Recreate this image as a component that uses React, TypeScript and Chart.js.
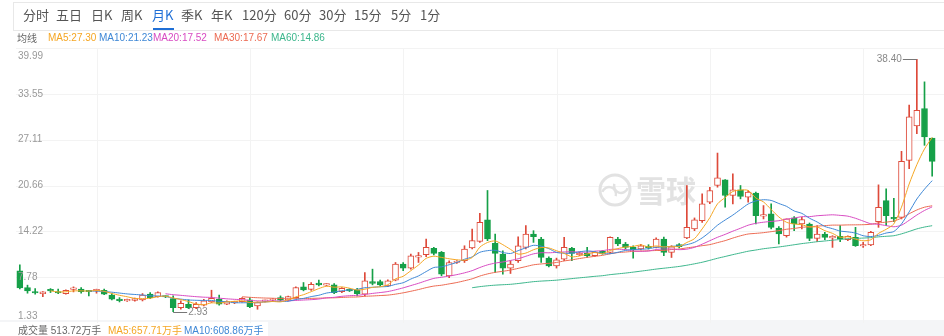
import React, { useEffect, useRef } from 'react';
import { Chart, registerables } from 'chart.js';
Chart.register(...registerables);

// ---------- data (monthly K line, 120 candles) ----------
const opens = [8.67,6.30,5.70,5.45,5.94,5.70,5.47,6.05,6.09,5.85,
 5.85,5.94,5.24,4.67,4.45,4.50,4.58,5.38,5.04,5.05,
 4.76,3.49,3.97,3.49,3.83,4.29,4.67,3.97,4.15,4.34,
 4.58,3.73,4.38,4.53,4.90,4.53,4.90,6.40,6.05,6.95,
 6.65,6.69,5.75,6.08,5.99,5.38,7.16,7.16,6.55,7.35,
 9.61,9.05,10.60,10.92,11.82,11.25,7.96,9.84,10.08,11.87,
 12.80,15.82,12.52,11.02,9.05,10.08,11.96,13.84,13.14,10.45,
 9.37,10.32,11.82,10.92,11.11,10.78,11.39,11.25,13.14,12.43,
 11.96,11.73,12.05,11.96,13.14,11.25,12.34,13.30,14.55,15.72,
 18.31,20.66,21.46,19.25,20.05,19.02,19.58,16.35,16.66,14.69,
 13.61,16.10,15.25,15.25,13.23,13.84,13.30,13.51,13.04,13.37,
 12.15,12.29,15.58,18.54,16.19,16.19,24.19,29.03,31.48,27.34];

const highs = [9.51,6.65,6.17,5.75,6.17,6.09,6.00,6.41,6.32,5.90,
 6.09,6.09,5.47,4.90,4.70,4.85,5.47,5.61,5.70,5.15,
 5.14,4.43,4.58,4.20,4.67,5.94,5.24,4.45,4.40,4.90,
 4.90,4.30,4.55,4.75,5.14,5.10,6.40,7.02,7.00,7.35,
 6.85,6.88,6.30,6.15,6.22,8.43,8.90,7.35,7.40,9.84,
 9.84,11.02,11.25,13.14,11.96,11.39,10.08,10.10,12.19,14.55,
 16.75,19.96,13.84,11.49,10.08,13.46,15.02,14.31,13.37,10.64,
 10.45,13.37,11.96,11.30,11.96,11.35,11.50,13.46,13.37,12.66,
 12.19,12.40,12.34,13.30,13.40,12.20,12.50,20.66,16.10,19.49,
 20.42,25.22,21.50,22.31,20.66,19.96,19.72,17.84,18.08,14.88,
 15.96,16.29,16.19,15.39,15.02,14.08,13.61,15.02,13.60,14.78,
 12.66,14.20,20.75,20.18,18.87,25.46,31.95,38.40,35.23,27.34];

const lows = [6.13,5.52,5.38,5.04,5.61,5.47,5.40,5.70,5.52,5.14,
 5.52,5.30,4.58,4.29,4.35,4.40,4.43,4.76,4.95,4.90,
 2.93,3.26,3.35,3.35,3.73,4.20,3.83,3.90,4.05,4.25,
 3.49,3.26,4.30,4.45,4.43,4.45,4.85,5.85,5.90,6.55,
 6.55,5.47,5.60,5.75,5.14,5.14,6.69,6.51,6.45,7.26,
 8.67,8.90,9.84,10.64,10.90,7.96,7.72,9.70,9.84,11.73,
 12.66,12.90,8.43,8.20,8.29,9.84,11.73,12.66,9.84,9.23,
 9.05,10.08,10.08,10.80,10.54,10.70,11.00,11.11,12.19,11.73,
 10.45,11.60,11.73,11.90,10.78,10.54,11.90,13.20,14.31,15.48,
 18.10,20.42,17.60,18.08,18.78,18.31,15.25,15.96,14.55,12.43,
 13.40,14.31,14.55,12.90,12.76,13.04,11.96,12.76,12.90,12.10,
 11.96,12.20,14.78,15.02,15.58,15.96,23.02,27.95,26.31,21.97];

const closes = [6.27,5.85,5.55,5.70,5.85,5.55,5.94,6.15,5.75,5.72,
 5.92,5.38,4.67,4.48,4.65,4.76,5.24,4.90,5.61,4.98,
 3.49,4.11,3.49,3.97,4.43,4.81,3.97,4.34,4.30,4.81,
 3.63,4.20,4.45,4.67,4.53,5.04,6.32,5.97,6.75,6.70,
 6.72,5.61,6.22,5.85,5.47,7.26,6.88,6.69,7.26,9.61,
 9.05,10.78,10.68,11.96,11.11,8.20,9.84,9.98,11.73,12.90,
 15.48,13.14,11.11,9.05,9.61,12.19,13.84,13.46,10.54,9.37,
 10.22,11.96,11.11,11.11,10.78,11.25,11.11,13.37,12.43,11.96,
 11.60,12.19,11.90,13.14,11.25,12.05,12.05,14.78,15.82,18.08,
 19.96,21.74,19.25,20.05,19.11,19.72,16.43,16.43,14.78,13.84,
 15.96,15.25,15.86,13.23,13.84,13.37,13.37,13.14,13.51,12.19,
 12.22,14.08,17.60,16.43,15.96,24.05,30.30,31.24,27.48,24.05];

const ma5 = [null,null,null,null,5.84,5.70,5.72,5.84,5.85,5.82,
 5.90,5.78,5.49,5.23,5.02,4.79,4.76,4.81,5.03,5.10,
 4.85,4.62,4.34,4.01,3.90,4.16,4.13,4.30,4.37,4.45,
 4.21,4.26,4.28,4.35,4.30,4.58,5.00,5.31,5.73,6.17,
 6.50,6.36,6.41,6.22,5.97,6.08,6.34,6.43,6.71,7.54,
 7.90,8.68,9.48,10.42,10.72,10.55,10.36,10.22,10.17,10.53,
 11.99,12.65,12.87,12.34,11.68,11.02,11.16,11.63,11.93,11.88,
 11.49,11.11,10.64,10.75,11.04,11.24,11.07,11.52,11.79,12.02,
 12.09,12.31,12.02,12.16,12.02,12.11,12.08,12.65,13.19,14.56,
 16.14,18.08,18.97,19.82,20.02,19.97,18.91,18.35,17.29,16.24,
 15.49,15.25,15.14,14.83,14.83,14.31,13.93,13.39,13.45,13.12,
 12.89,13.03,13.92,14.50,15.26,17.62,20.87,23.59,25.80,27.42];

const ma10 = [null,null,null,null,null,null,null,null,null,5.83,
 5.80,5.75,5.66,5.54,5.42,5.34,5.27,5.15,5.13,5.06,
 4.81,4.69,4.57,4.52,4.50,4.50,4.37,4.32,4.19,4.17,
 4.19,4.20,4.29,4.36,4.37,4.39,4.63,4.79,5.04,5.23,
 5.54,5.68,5.86,5.98,6.07,6.29,6.35,6.42,6.47,6.76,
 6.99,7.51,7.95,8.56,9.13,9.22,9.52,9.85,10.29,10.62,
 11.27,11.50,11.55,11.25,11.10,11.50,11.90,12.25,12.13,11.78,
 11.25,11.14,11.14,11.34,11.46,11.36,11.09,11.08,11.27,11.53,
 11.67,11.69,11.77,11.97,12.02,12.10,12.19,12.34,12.67,13.29,
 14.12,15.08,15.81,16.50,17.29,18.06,18.49,18.66,18.56,18.13,
 17.73,17.08,16.74,16.06,15.53,14.90,14.59,14.26,14.14,13.97,
 13.60,13.48,13.66,13.98,14.19,15.26,16.95,18.76,20.15,21.34];

const ma20 = [null,null,null,null,null,null,null,null,null,null,
 null,null,null,null,null,null,null,null,null,5.44,
 5.31,5.22,5.12,5.03,4.96,4.92,4.82,4.73,4.66,4.61,
 4.50,4.44,4.43,4.44,4.43,4.45,4.50,4.56,4.61,4.70,
 4.86,4.94,5.08,5.17,5.22,5.34,5.49,5.61,5.75,5.99,
 6.27,6.59,6.91,7.27,7.60,7.76,7.93,8.13,8.38,8.69,
 9.13,9.50,9.75,9.91,10.12,10.36,10.71,11.05,11.21,11.20,
 11.26,11.32,11.34,11.30,11.28,11.43,11.50,11.67,11.70,11.65,
 11.46,11.41,11.45,11.66,11.74,11.73,11.64,11.71,11.97,12.41,
 12.90,13.38,13.79,14.24,14.65,15.08,15.34,15.50,15.61,15.71,
 15.93,16.08,16.28,16.28,16.41,16.48,16.54,16.46,16.35,16.05,
 15.66,15.28,15.20,15.02,14.86,15.08,15.77,16.51,17.15,17.66];

const ma30 = [null,null,null,null,null,null,null,null,null,null,
 null,null,null,null,null,null,null,null,null,null,
 null,null,null,null,null,null,null,null,null,5.02,
 4.94,4.88,4.84,4.81,4.77,4.75,4.76,4.76,4.79,4.82,
 4.86,4.87,4.92,4.97,4.99,5.08,5.13,5.19,5.25,5.39,
 5.57,5.79,6.03,6.30,6.52,6.64,6.83,7.02,7.27,7.54,
 7.93,8.23,8.45,8.60,8.77,9.01,9.26,9.51,9.63,9.72,
 9.84,10.05,10.21,10.39,10.56,10.70,10.84,11.06,11.23,11.31,
 11.40,11.44,11.48,11.52,11.53,11.66,11.73,11.89,12.03,12.20,
 12.35,12.63,12.91,13.27,13.59,13.84,13.93,14.03,14.17,14.32,
 14.51,14.62,14.78,14.85,14.95,15.02,15.09,15.09,15.12,15.13,
 15.15,15.21,15.40,15.51,15.67,16.07,16.68,17.22,17.61,17.81];

const ma60 = [null,null,null,null,null,null,null,null,null,null,
 null,null,null,null,null,null,null,null,null,null,
 null,null,null,null,null,null,null,null,null,null,
 null,null,null,null,null,null,null,null,null,null,
 null,null,null,null,null,null,null,null,null,null,
 null,null,null,null,null,null,null,null,null,6.29,
 6.44,6.56,6.65,6.71,6.77,6.88,7.01,7.14,7.22,7.28,
 7.35,7.46,7.57,7.68,7.78,7.89,7.98,8.13,8.24,8.35,
 8.48,8.62,8.76,8.91,9.03,9.15,9.28,9.45,9.65,9.87,
 10.14,10.43,10.68,10.94,11.18,11.42,11.59,11.77,11.90,12.02,
 12.17,12.33,12.49,12.62,12.76,12.86,12.97,13.07,13.18,13.22,
 13.27,13.33,13.44,13.52,13.60,13.86,14.20,14.56,14.82,15.01];

const categories = opens.map((_, i) => String(i + 1));
const yTickValues = [1.33, 7.7733, 14.2167, 20.66, 27.1033, 33.5467, 39.99];
const yTickLabels = ['1.33', '7.78', '14.22', '20.66', '27.11', '33.55', '39.99'];
const gridCandles = [10, 30, 50, 70, 90, 110];

const tabs = [
  { t: '分时', x: 24 }, { t: '五日', x: 57 }, { t: '日K', x: 92 }, { t: '周K', x: 122 },
  { t: '月K', x: 153 }, { t: '季K', x: 182 }, { t: '年K', x: 212 }, { t: '120分', x: 243 },
  { t: '60分', x: 285 }, { t: '30分', x: 320 }, { t: '15分', x: 355 }, { t: '5分', x: 392 }, { t: '1分', x: 421 },
];

const maLegend = [
  { t: 'MA5:27.30', x: 48, c: '#f5a623' },
  { t: 'MA10:21.23', x: 99, c: '#3f88d6' },
  { t: 'MA20:17.52', x: 153, c: '#d84bc2' },
  { t: 'MA30:17.67', x: 214, c: '#ec6a52' },
  { t: 'MA60:14.86', x: 271, c: '#3cb68c' },
];

const UP = '#de4a3a';
const DOWN = '#16a048';
const C_MA5 = '#f5a623';
const C_MA10 = '#3f88d6';
const C_MA20 = '#d84bc2';
const C_MA30 = '#ec6a52';
const C_MA60 = '#3cb68c';
const LATIN = '"Liberation Sans", Arial, sans-serif';
const CJK = '"Noto Sans CJK SC", sans-serif';

const isUp = closes.map((c, i) => c >= opens[i]);

const decorPlugin = {
  id: 'decor',
  beforeDatasetsDraw(chart: any) {
    const { ctx, chartArea: a, scales } = chart;
    const xs = scales.x, ys = scales.y;
    ctx.save();
    ctx.strokeStyle = '#f3f3f3';
    ctx.lineWidth = 1;
    yTickValues.forEach((v, k) => {
      if (k === 0) return;
      const py = Math.round(ys.getPixelForValue(v)) + 0.5;
      ctx.beginPath(); ctx.moveTo(a.left, py); ctx.lineTo(944, py); ctx.stroke();
    });
    gridCandles.forEach((idx) => {
      const px = Math.round(xs.getPixelForValue(idx)) + 0.5;
      ctx.beginPath(); ctx.moveTo(px, a.top); ctx.lineTo(px, a.bottom); ctx.stroke();
    });
    // watermark
    ctx.strokeStyle = '#e2e2e2';
    ctx.lineWidth = 3;
    ctx.beginPath(); ctx.arc(615, 190, 15, 0, Math.PI * 2); ctx.stroke();
    ctx.lineWidth = 2.5;
    ctx.beginPath(); ctx.arc(609, 194, 7, Math.PI * 1.1, Math.PI * 0.1, false); ctx.stroke();
    ctx.beginPath(); ctx.arc(621, 186, 7, Math.PI * 0.1, Math.PI * 1.1, false); ctx.stroke();
    ctx.fillStyle = '#e2e2e2';
    ctx.font = 'bold 30px "Noto Sans CJK SC"';
    ctx.textBaseline = 'middle';
    ctx.textAlign = 'left';
    ctx.fillText('雪球', 636, 191);
    ctx.restore();
  },
  afterDatasetsDraw(chart: any) {
    const { ctx, scales } = chart;
    const xs = scales.x, ys = scales.y;
    ctx.save();
    ctx.font = '10px ' + LATIN;
    ctx.fillStyle = '#999';
    ctx.textAlign = 'left';
    ctx.textBaseline = 'middle';
    yTickValues.forEach((v, k) => {
      let py = ys.getPixelForValue(v);
      if (k === 0) py -= 7;
      else if (k === yTickValues.length - 1) py += 8;
      ctx.fillText(yTickLabels[k], 18, py);
    });
    // max / min markers
    let iMax = 0, iMin = 0;
    highs.forEach((h, i) => { if (h > highs[iMax]) iMax = i; });
    lows.forEach((l, i) => { if (l < lows[iMin]) iMin = i; });
    ctx.strokeStyle = '#777';
    ctx.lineWidth = 1;
    const mx = xs.getPixelForValue(iMax), my = Math.round(ys.getPixelForValue(highs[iMax])) + 0.5;
    ctx.beginPath(); ctx.moveTo(mx - 14, my); ctx.lineTo(mx, my); ctx.stroke();
    ctx.textAlign = 'right';
    ctx.fillStyle = '#888';
    ctx.fillText(highs[iMax].toFixed(2), mx - 15, my);
    const nx = xs.getPixelForValue(iMin), ny = Math.round(ys.getPixelForValue(lows[iMin])) + 0.5;
    ctx.beginPath(); ctx.moveTo(nx, ny); ctx.lineTo(nx + 14, ny); ctx.stroke();
    ctx.textAlign = 'left';
    ctx.fillText(lows[iMin].toFixed(2), nx + 15, ny);
    ctx.restore();
  },
};

function maDataset(label: string, data: (number | null)[], color: string) {
  return {
    type: 'line' as const, label, data, borderColor: color, backgroundColor: color,
    borderWidth: 1, pointRadius: 0, tension: 0.25, order: 0, fill: false,
  };
}

export default function App() {
  const ref = useRef<HTMLCanvasElement>(null);
  useEffect(() => {
    const chart = new Chart(ref.current as HTMLCanvasElement, {
      type: 'bar',
      data: {
        labels: categories,
        datasets: [
          maDataset('MA5', ma5, C_MA5),
          maDataset('MA10', ma10, C_MA10),
          maDataset('MA20', ma20, C_MA20),
          maDataset('MA30', ma30, C_MA30),
          maDataset('MA60', ma60, C_MA60),
          {
            type: 'bar', label: 'body', data: opens.map((o, i) => [o, closes[i]]) as any,
            backgroundColor: isUp.map((u) => (u ? '#ffffff' : DOWN)),
            borderColor: isUp.map((u) => (u ? UP : DOWN)),
            borderWidth: 1, borderSkipped: false, barThickness: 6, minBarLength: 1.5,
            grouped: false, order: 1,
          } as any,
          {
            type: 'bar', label: 'wick', data: lows.map((l, i) => [l, highs[i]]) as any,
            backgroundColor: isUp.map((u) => (u ? UP : DOWN)),
            borderWidth: 0, barThickness: 1, grouped: false, order: 2,
          } as any,
        ],
      },
      options: {
        responsive: false,
        animation: false,
        layout: { padding: { left: 16, right: 8, top: 48, bottom: 13 } },
        plugins: { legend: { display: false }, tooltip: { enabled: false } },
        scales: {
          x: { type: 'category', display: false, offset: true, stacked: false },
          y: { display: false, min: 1.33, max: 39.99, stacked: false },
        },
      },
      plugins: [decorPlugin],
    });
    return () => chart.destroy();
  }, []);

  const small = { position: 'absolute' as const, fontSize: 10, lineHeight: '14px', whiteSpace: 'nowrap' as const };
  return (
    <div style={{ position: 'fixed', left: 0, top: 0, width: 944, height: 336, background: '#fff', overflow: 'hidden', fontFamily: LATIN }}>
      <div style={{ position: 'absolute', left: 0, top: 320, width: 944, height: 16, background: '#f4f5f7' }} />
      <div style={{ position: 'absolute', left: 0, top: 322, width: 268, height: 14, background: '#fff' }} />
      <canvas ref={ref} width={944} height={336} style={{ position: 'absolute', left: 0, top: 0, width: 944, height: 336 }} />
      <div style={{ position: 'absolute', left: 13, top: 2, width: 960, height: 29, border: '1px solid #e8e8e8', boxSizing: 'border-box' }} />
      {tabs.map((t) => (
        <span key={t.t} style={{ position: 'absolute', left: t.x - 1, top: 6, fontSize: 13, lineHeight: '18px', color: t.t === '月K' ? '#1f6fd6' : '#555', whiteSpace: 'nowrap', fontFamily: CJK }}>{t.t}</span>
      ))}
      <div style={{ position: 'absolute', left: 153, top: 28, width: 21, height: 2, background: '#1f6fd6' }} />
      <span style={{ ...small, left: 17, top: 31, color: '#666', fontFamily: CJK }}>均线</span>
      {maLegend.map((m) => (
        <span key={m.t} style={{ ...small, left: m.x, top: 31, color: m.c }}>{m.t}</span>
      ))}
      <span style={{ ...small, left: 18, top: 323, color: '#666' }}>
        <span style={{ fontFamily: CJK }}>成交量</span> 513.72<span style={{ fontFamily: CJK }}>万手</span>
      </span>
      <span style={{ ...small, left: 108, top: 323, color: C_MA5 }}>
        MA5:657.71<span style={{ fontFamily: CJK }}>万手</span>
      </span>
      <span style={{ ...small, left: 184, top: 323, color: C_MA10 }}>
        MA10:608.86<span style={{ fontFamily: CJK }}>万手</span>
      </span>
    </div>
  );
}
